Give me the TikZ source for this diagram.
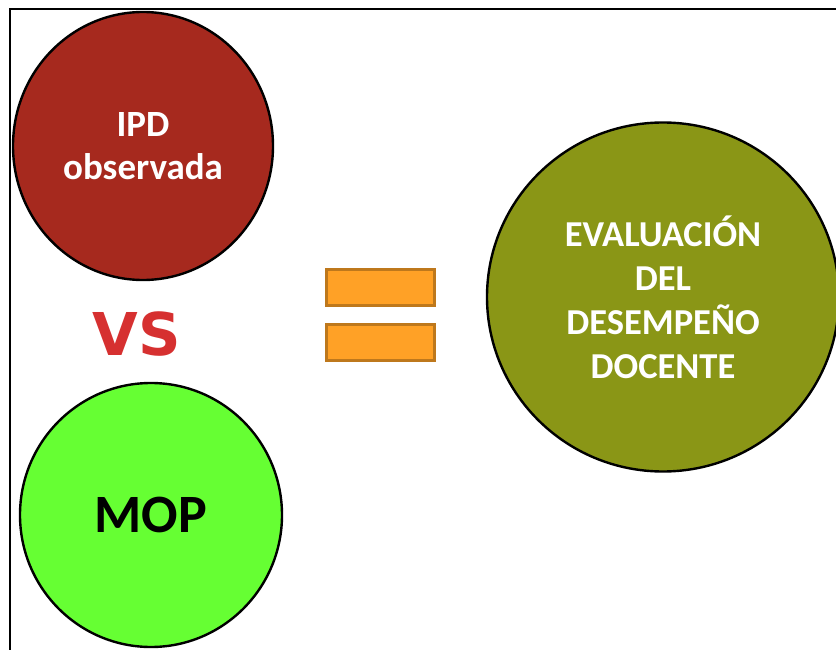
\documentclass[tikz,border=0pt]{standalone}
\usepackage{fontspec}
\setmainfont{Carlito}
\newfontfamily\vsfont{DejaVu Sans}
\usepackage{xcolor}
\usetikzlibrary{shapes.geometric}
\definecolor{ipdred}{RGB}{166,41,30}
\definecolor{mopgreen}{RGB}{102,255,51}
\definecolor{evalolive}{RGB}{138,150,22}
\definecolor{eqfill}{RGB}{255,161,38}
\definecolor{eqdraw}{RGB}{190,120,28}
\definecolor{vsred}{RGB}{214,48,48}

\begin{document}
\begin{tikzpicture}[x=1pt, y=-1pt, thick]
\useasboundingbox (0,0) rectangle (836,650);
\draw[line width=2.6pt] (10,9) rectangle (860,670);
\tikzstyle{every node} = [ellipse, draw=black, line width=2.4pt, inner sep=0pt, align=center, font=\bfseries]
\node[fill=ipdred, text=white, minimum width=260pt, minimum height=268pt,
  font=\bfseries\fontsize{37}{43}\selectfont] (ipd) at (143,146) {IPD\\observada};
\node[fill=mopgreen, text=black, minimum width=262pt, minimum height=264pt,
  font=\bfseries\fontsize{54}{60}\selectfont] (mop) at (151,515) {MOP};
\node[fill=evalolive, text=white, minimum width=352pt, minimum height=349pt,
  font=\bfseries\fontsize{36.5}{44}\selectfont] (eval) at (663,297) {EVALUACIÓN\\DEL\\DESEMPEÑO\\DOCENTE};
\tikzstyle{every node} = [rectangle, fill=eqfill, draw=eqdraw, line width=2.6pt, minimum width=108pt, minimum height=36pt, inner sep=0pt]
\node (eqtop) at (380.5,287.5) {};
\node (eqbot) at (380.5,342.5) {};
\tikzstyle{every node} = []
\node[text=vsred, inner sep=0pt, font=\vsfont\bfseries\fontsize{59}{60}\selectfont] (vs) at (137,334) {VS};
\end{tikzpicture}
\end{document}
